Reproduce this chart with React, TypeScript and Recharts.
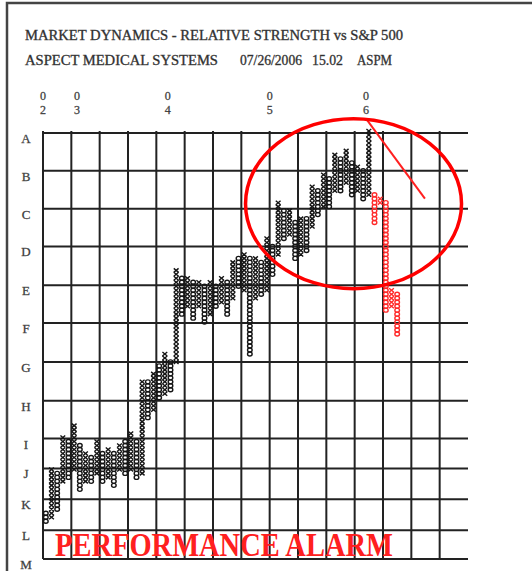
import React from 'react';
import {
  ScatterChart,
  Scatter,
  XAxis,
  YAxis,
  ReferenceDot,
  ReferenceLine,
} from 'recharts';

// row letters down the left side and the level each grid line sits at (1 unit = 1 box)
const rowLabels = ['A', 'B', 'C', 'D', 'E', 'F', 'G', 'H', 'I', 'J', 'K', 'L', 'M'];
const rowLevels = [107, 97.5, 88, 78.5, 68.75, 59.25, 49.5, 39.75, 30.25, 22.75, 15, 7.25, 0];

// vertical grid every 5 columns
const gridColumns = [0, 5, 10, 15, 20, 25, 30, 35, 40, 45, 50, 55, 60, 65, 70];

// month markers over the columns
const monthLabels = ['02', '03', '04', '05', '06'];
const monthColumns = [0, 6, 22, 40, 57];

// point & figure columns: kind, lowest box, highest box
const columnKind = [
  'O', 'X', 'O', 'X', 'O', 'X', 'O', 'X', 'O', 'X',
  'O', 'X', 'O', 'X', 'O', 'X', 'O', 'X', 'O', 'X',
  'O', 'X', 'O', 'X', 'O', 'X', 'O', 'X', 'O', 'X',
  'O', 'X', 'O', 'X', 'O', 'X', 'O', 'X', 'O', 'X',
  'O', 'X', 'O', 'X', 'O', 'X', 'O', 'X', 'O', 'X',
  'O', 'X', 'O', 'X', 'O', 'X', 'O', 'X', 'O', 'X',
  'O', 'X', 'O',
];
const columnLow = [
  9, 10, 12, 19, 20, 22, 17, 19, 19, 21,
  19, 20, 18, 22, 21, 22, 20, 21, 35, 37,
  40, 41, 42, 49, 61, 63, 60, 63, 59, 61,
  63, 64, 61, 65, 68, 67, 51, 65, 66, 67,
  71, 76, 80, 81, 75, 76, 77, 83, 86, 88,
  88, 92, 92, 94, 91, 92, 90, 91, 84, 89,
  62, 63, 56,
];
const columnHigh = [
  11, 22, 21, 30, 29, 33, 28, 26, 25, 29,
  26, 27, 26, 28, 29, 31, 29, 44, 44, 46,
  48, 51, 49, 72, 70, 70, 69, 69, 68, 69,
  68, 70, 69, 74, 75, 76, 75, 75, 74, 80,
  78, 89, 87, 87, 84, 85, 85, 93, 92, 96,
  95, 101, 100, 102, 99, 98, 97, 107, 91, 90,
  89, 67, 66,
];
// columns from here on are printed in red
const firstRedColumn = 58;

// annotations
const alarmCenter = { col: 54.8, level: 89.25 };
const trendStart = { col: 57.2, level: 110.25 };
const trendEnd = { col: 67.4, level: 90.5 };

type Pt = { col: number; level: number };
const blackX: Pt[] = [];
const blackO: Pt[] = [];
const redX: Pt[] = [];
const redO: Pt[] = [];
columnKind.forEach((kind, c) => {
  const red = c >= firstRedColumn;
  const target = kind === 'X' ? (red ? redX : blackX) : red ? redO : blackO;
  for (let v = columnLow[c]; v <= columnHigh[c]; v++) {
    target.push({ col: c + 0.5, level: v + 0.5 });
  }
});

const serif = '"Liberation Serif", "DejaVu Serif", serif';
const gridColor = '#222';

const xShape = (color: string) => (p: any) => (
  <path
    d={`M${p.cx - 2.4},${p.cy - 2}L${p.cx + 2.4},${p.cy + 2}M${p.cx + 2.4},${p.cy - 2}L${p.cx - 2.4},${p.cy + 2}`}
    stroke={color}
    strokeWidth={1.4}
    fill="none"
  />
);
const oShape = (color: string) => (p: any) => (
  <ellipse cx={p.cx} cy={p.cy} rx={2.3} ry={2} stroke={color} strokeWidth={1.4} fill="none" />
);

const LetterTick = (props: any) => {
  const { x, y, payload } = props;
  const label = rowLabels[rowLevels.indexOf(payload.value)];
  return (
    <text
      x={x - 17}
      y={y + 10}
      textAnchor="middle"
      fontFamily={serif}
      fontSize={13}
      fill="#333"
      stroke="#555"
      strokeWidth={0.3}
    >
      {label}
    </text>
  );
};

const MonthTick = (props: any) => {
  const { x, y, payload } = props;
  const label = monthLabels[monthColumns.indexOf(payload.value)] || '';
  return (
    <g fontFamily={serif} fontSize={12} fill="#333" stroke="#555" strokeWidth={0.3} textAnchor="middle">
      <text x={x} y={y - 31}>{label[0]}</text>
      <text x={x} y={y - 17}>{label[1]}</text>
    </g>
  );
};

export default function App() {
  return (
    <div style={{ position: 'absolute', left: 0, top: 0, width: 532, height: 571, background: '#fff' }}>
      <ScatterChart width={532} height={571} margin={{ top: 101, right: 64, bottom: 12, left: 0 }}>
        <XAxis
          orientation="top"
          type="number"
          dataKey="col"
          domain={[0, 75]}
          ticks={monthColumns}
          height={30}
          axisLine={false}
          tickLine={false}
          tickSize={0}
          tickMargin={0}
          interval={0}
          tick={MonthTick}
        />
        <YAxis
          type="number"
          dataKey="level"
          domain={[0, 107]}
          ticks={rowLevels}
          width={43}
          axisLine={false}
          tickLine={false}
          tickSize={0}
          tickMargin={0}
          interval={0}
          tick={LetterTick}
        />
        {rowLevels.map((v) => (
          <ReferenceLine key={'h' + v} y={v} stroke={gridColor} strokeWidth={2} />
        ))}
        {gridColumns.map((c) => (
          <ReferenceLine key={'v' + c} x={c} stroke={gridColor} strokeWidth={2} />
        ))}
        <Scatter data={blackX} shape={xShape('#151515')} isAnimationActive={false} />
        <Scatter data={blackO} shape={oShape('#151515')} isAnimationActive={false} />
        <Scatter data={redX} shape={xShape('#ff2a2a')} isAnimationActive={false} />
        <Scatter data={redO} shape={oShape('#ff2a2a')} isAnimationActive={false} />
        <ReferenceLine
          segment={[
            { x: trendStart.col, y: trendStart.level },
            { x: trendEnd.col, y: trendEnd.level },
          ]}
          stroke="#ff2020"
          strokeWidth={2}
          ifOverflow="visible"
        />
        <ReferenceDot
          x={alarmCenter.col}
          y={alarmCenter.level}
          ifOverflow="visible"
          shape={(p: any) => (
            <ellipse cx={p.cx} cy={p.cy} rx={108} ry={85} fill="none" stroke="#f00" strokeWidth={3.5} />
          )}
        />
      </ScatterChart>
      <svg
        width={532}
        height={571}
        style={{ position: 'absolute', left: 0, top: 0, pointerEvents: 'none' }}
      >
        <path d="M7,571V3H532" fill="none" stroke="#444" strokeWidth={2.5} />
        <g fontFamily={serif} fontSize={14} fill="#2a2a2a" stroke="#444" strokeWidth={0.35}>
          <text x={25} y={40} textLength={378} lengthAdjust="spacingAndGlyphs">
            MARKET DYNAMICS - RELATIVE STRENGTH vs S&amp;P 500
          </text>
          <text x={25} y={65} textLength={193} lengthAdjust="spacingAndGlyphs">
            ASPECT MEDICAL SYSTEMS
          </text>
          <text x={240} y={65} textLength={62} lengthAdjust="spacingAndGlyphs">
            07/26/2006
          </text>
          <text x={312} y={65} textLength={31} lengthAdjust="spacingAndGlyphs">
            15.02
          </text>
          <text x={357} y={65} textLength={35} lengthAdjust="spacingAndGlyphs">
            ASPM
          </text>
        </g>
        <text
          x={55}
          y={556}
          fontFamily={serif}
          fontWeight="bold"
          fontSize={33}
          fill="#ff2020"
          textLength={338}
          lengthAdjust="spacingAndGlyphs"
        >
          PERFORMANCE ALARM
        </text>
      </svg>
    </div>
  );
}
